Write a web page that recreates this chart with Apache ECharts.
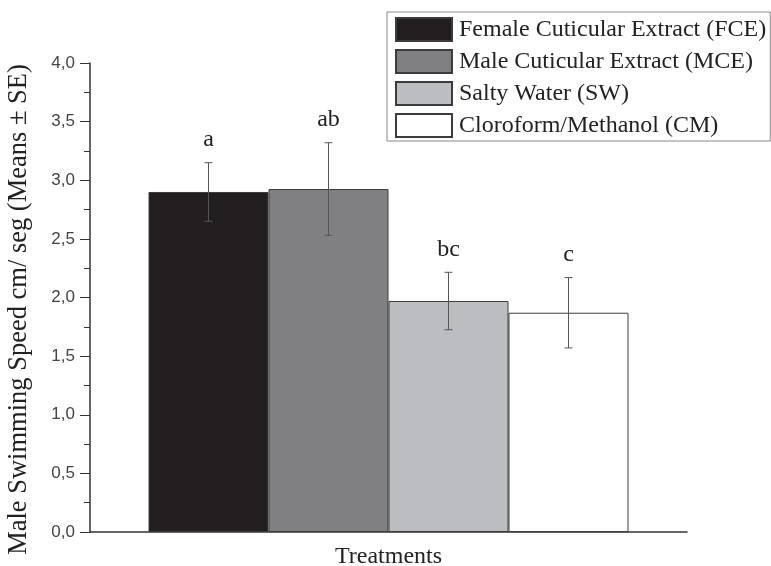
<!DOCTYPE html>
<html>
<head>
<meta charset="utf-8">
<script src="https://cdn.jsdelivr.net/npm/echarts@6/dist/echarts.min.js"></script>
<style>
  html, body { margin: 0; padding: 0; background: #fff; }
  #chart { width: 771px; height: 566px; }
</style>
</head>
<body>
<div id="chart"></div>
<script>
// 数据
var categories = ['Treatments'];
var groups = ['Female Cuticular Extract (FCE)', 'Male Cuticular Extract (MCE)', 'Salty Water (SW)', 'Cloroform/Methanol (CM)'];
var means = [2.90, 2.925, 1.97, 1.87];
var ses = [0.25, 0.395, 0.245, 0.30];
var letters = ['a', 'ab', 'bc', 'c'];
var yTicks = [0, 0.5, 1.0, 1.5, 2.0, 2.5, 3.0, 3.5, 4.0];

var colors = ['#231f20', '#808083', '#bcbdc1', '#ffffff'];
var BAR_W = 120;
var serif = '"Liberation Serif", "Times New Roman", serif';

var dom = document.getElementById('chart');
var myChart = echarts.init(dom);

var barSeries = groups.map(function (name, i) {
    return {
        name: name,
        type: 'bar',
        barWidth: BAR_W,
        barGap: '0%',
        data: [means[i]],
        itemStyle: { color: colors[i], borderColor: '#3c3c3c', borderWidth: 1 },
        z: 2
    };
});

// 误差线 + 显著性字母
var errSeries = {
    type: 'custom',
    z: 5,
    silent: true,
    data: groups.map(function (g, i) { return [0, means[i], ses[i], i]; }),
    renderItem: function (params, api) {
        var i = api.value(3);
        var m = api.value(1);
        var se = api.value(2);
        var c = api.coord([0, m]);
        var x = c[0] + (i - 1.5) * BAR_W;
        var hi = api.coord([0, m + se])[1];
        var lo = api.coord([0, m - se])[1];
        var st = { stroke: '#555', lineWidth: 1 };
        return {
            type: 'group',
            children: [
                { type: 'line', shape: { x1: x, y1: hi, x2: x, y2: lo }, style: st },
                { type: 'line', shape: { x1: x - 4, y1: hi, x2: x + 4, y2: hi }, style: st },
                { type: 'line', shape: { x1: x - 4, y1: lo, x2: x + 4, y2: lo }, style: st },
                {
                    type: 'text',
                    x: x, y: hi - 23,
                    style: {
                        text: letters[i], fill: '#222',
                        font: '24px ' + serif,
                        align: 'center', verticalAlign: 'middle'
                    }
                }
            ]
        };
    }
};

var option = {
    animation: false,
    backgroundColor: '#fff',
    grid: { left: 90, right: 84, top: 63, bottom: 34, outerBoundsMode: 'none', containLabel: false },
    legend: {
        data: groups,
        orient: 'vertical',
        left: 387,
        top: 12,
        right: 1,
        itemWidth: 56,
        itemHeight: 23,
        itemGap: 7,
        padding: [5, 4, 3, 8],
        borderColor: '#888',
        borderWidth: 1,
        backgroundColor: '#fff',
        icon: 'rect',
        textStyle: { fontFamily: serif, fontSize: 24, color: '#222', padding: [0, 0, 0, 2] }
    },
    xAxis: {
        type: 'category',
        data: categories,
        axisLine: { lineStyle: { color: '#333', width: 1.5 } },
        axisTick: { alignWithLabel: true, length: 10, lineStyle: { color: '#333' } },
        axisLabel: { fontFamily: serif, fontSize: 24, color: '#222', margin: 13 }
    },
    yAxis: {
        type: 'value',
        min: 0,
        max: 4,
        interval: 0.5,
        name: 'Male Swimming Speed cm/ seg (Means \u00b1 SE)',
        nameLocation: 'middle',
        nameGap: 57,
        nameTextStyle: { fontFamily: serif, fontSize: 26.5, color: '#222', padding: [0, 0, 0, -24] },
        axisLine: { show: true, lineStyle: { color: '#333', width: 1.5 } },
        axisTick: { show: true, length: 10, lineStyle: { color: '#333' } },
        minorTick: { show: true, splitNumber: 2, length: 6, lineStyle: { color: '#333' } },
        splitLine: { show: false },
        axisLabel: {
            fontFamily: '"Liberation Sans", Arial, sans-serif',
            fontSize: 17,
            color: '#444',
            margin: 15,
            formatter: function (v) {
                return yTicks.indexOf(v) >= 0 ? v.toFixed(1).replace('.', ',') : '';
            }
        }
    },
    series: barSeries.concat([errSeries])
};

if (option && typeof option === 'object') {
    myChart.setOption(option, true);
}
</script>
</body>
</html>
